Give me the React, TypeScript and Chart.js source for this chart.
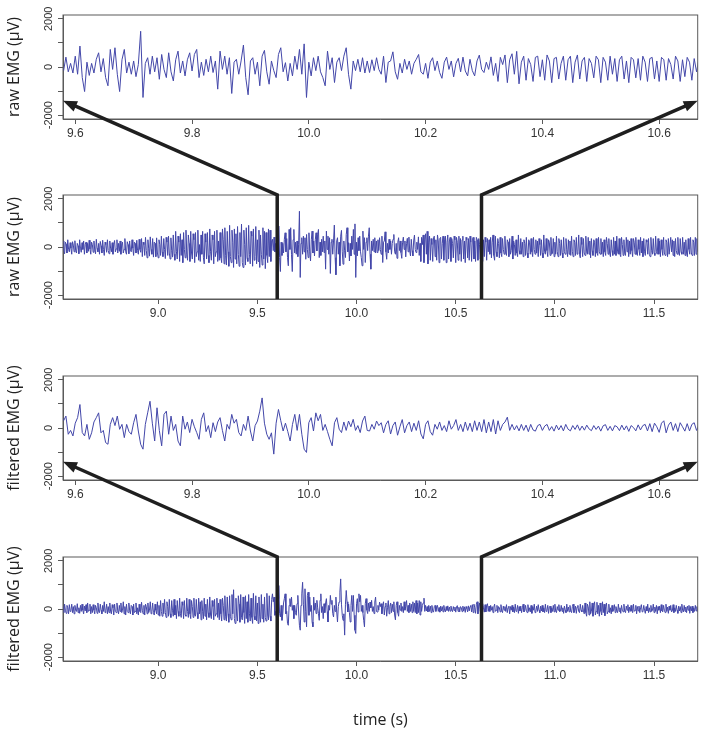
import { useEffect, useRef } from 'react';
import { Chart, registerables } from 'chart.js';

Chart.register(...registerables);

// ---------------- data ----------------
const DT = 0.004; // sample spacing (s)
const startA = 8.52;
const startB = 9.576;
const startC = 10.672;

// raw EMG (µV)
const rawA = [
  250,-150,-280,200,120,-250,300,-100,-200,180,
  -50,-300,220,80,-200,260,-150,-250,150,50,
  -280,300,-50,-220,180,-100,250,-300,100,200,
  -250,150,-180,280,-80,-300,200,100,-220,250,
  -120,-280,320,-50,-200,150,-300,230,50,-250,
  280,-100,-350,200,100,-220,300,-150,-280,250,
  -50,-200,180,-300,100,270,-200,-80,300,-250,
  150,-180,250,-300,80,200,-250,-100,350,-200,
  -300,220,100,-280,250,-120,-200,300,-50,-350,
  200,150,-250,280,-150,-300,320,-100,-220,350,
  -400,200,100,-350,400,-150,-450,300,-50,-380,
  420,-100,-300,350,-420,200,150,-400,380,-250,
  -450,300,100,-350,450,-200,-400,350,-100,-480,
  400,200,-350,450,-250,-500,380,-150,-420,500,
  -300,-550,650,-200,-500,450,200,-600,550,-350,
  300,-650,600,-100,-450,700,-300,-550,500,150,
  -600,650,-250,-500,550,300,-650,600,-400,-200,
  700,-550,100,-600,500,-300,650,-450,-700,550,
  200,-500,600,-350,-650,750,-200,-550,500,300,
  -700,650,-400,-200,700,-600,250,-550,600,-450,
  -650,750,300,-700,800,-350,-750,650,-200,-800,
  900,-400,-650,700,200,-850,750,-500,550,-700,
  850,-300,-800,600,-400,950,-650,-850,700,100,
  -750,800,-450,-600,900,-300,-700,650,450,-800,
  750,-550,-400,850,-700,300,-600,700,-850,500,
  -300,-750,800,-500,650,-900,600,-350,-650,750,
  -400,700,-600,250,
];
const rawB = [
  320,-150,410,-200,150,-250,450,-300,870,-440,
  -1020,200,-350,150,-250,320,590,-200,350,-440,
  -780,730,-100,800,-300,-1020,300,730,-250,200,
  -300,250,-400,100,1485,-1265,150,385,-300,450,
  -200,385,-510,520,-100,-440,590,-200,-580,300,
  660,-250,250,-370,300,590,-165,520,730,-440,
  200,-350,320,-200,450,-230,250,-920,660,-100,
  450,-300,385,-1100,200,320,-300,250,910,-440,
  -1155,250,385,-300,200,-780,450,690,-200,-715,
  250,-150,
  -440,520,800,-200,180,-580,150,-370,450,-100,
  730,-300,960,-1265,200,-370,385,-150,450,-200,
  -440,-780,660,-100,385,-645,200,385,-150,450,
  800,-300,-920,250,-150,320,-200,385,-250,250,
  -230,300,-150,385,-100,-300,450,-645,200,250,
  630,-200,-510,150,-250,320,-100,250,-300,150,
  320,520,-200,-300,150,-470,200,385,-150,250,
  -230,-470,200,410,-100,250,-410,150,360,-200,
  410,-165,-370,320,-150,-370,250,495,-100,-230,
  200,
  -100,420,-350,150,-600,400,100,500,-650,300,
  550,-300,650,-700,200,450,-550,350,100,-600,
  400,450,-400,300,-550,500,250,-650,350,400,
  -500,150,450,-550,300,450,-650,200,500,-500,
  250,400,-600,350,150,-450,450,300,-650,400,
  200,-550,450,-300,350,-600,300,450,-500,250,
  -650,400,300,-450,350,-550,450,200,-600,350,
  400,-500,250,-600,400,300,-550,350,100,-500,
  450,250,-600,300,-400,400,200,-550,350,-200,
  300,
];
const rawC = [
  -300,400,-450,200,500,-350,-550,450,-200,-400,
  350,150,-450,400,-250,-400,350,-100,-300,450,
  -250,-350,300,200,-400,350,-300,-150,450,-500,
  250,100,-350,300,-250,-400,500,-150,-300,350,
  -300,200,-400,300,150,-350,400,-250,-450,300,
  200,-300,350,-200,-400,400,-100,-300,300,-250,
  250,-400,350,100,-350,300,-250,-450,500,-200,
  -300,350,-150,-400,300,200,-350,400,-300,-250,
  350,-400,200,-300,450,-200,-400,350,150,-350,
  300,-250,-450,400,-200,-300,350,-100,-400,300,
  -300,250,-350,450,-200,-400,300,200,-350,400,
  -300,-200,500,-300,-450,400,100,-400,350,-250,
  -350,450,-200,-300,400,-300,250,-450,350,-150,
  -350,300,200,-400,350,-250,-350,400,-200,-300,
  350,-300,200,-400,300,-200,-350,400,150,-300,
  350,-250,-400,300,-150,-350,400,-300,250,-350,
  450,-200,-300,350,-300,-400,400,100,-350,300,
  -250,-350,400,-200,300,-400,250,-300,350,-150,
  -400,350,200,-300,400,-300,-350,300,-100,-350,
  400,-250,250,-400,350,-200,-350,300,200,-300,
  350,-300,-400,400,-150,-300,350,-250,-350,450,
  -200,-300,350,-300,250,-400,300,-100,-350,400,
  -250,-350,300,200,-400,350,-300,-300,400,-200,
  300,-350,250,-400,350,-150,-300,400,-250,-350,
  350,-200,-300,400,-300,200,-350,300,-250,-400,
  350,-100,-300,400,-250,-350,300,200,-350,400,
  -300,350,-200,
];

// filtered EMG (µV)
const filtA = [
  100,-150,200,-50,-180,150,50,-200,180,-100,
  -50,200,-150,100,-200,150,-50,-100,220,-150,
  50,-180,150,-100,200,-50,-200,120,-80,180,
  -150,250,-100,-50,200,-200,100,-150,180,-50,
  -200,150,50,-180,250,-100,-150,200,-50,-200,
  150,-100,300,-150,-50,200,-200,100,-150,250,
  -100,-200,180,50,-250,200,-100,-150,250,-50,
  -200,150,-100,250,-150,-50,300,-200,100,-250,
  200,-100,-150,250,-50,-200,150,100,-250,200,
  -150,-100,250,-200,50,-250,200,-100,-150,280,
  -50,-200,150,-250,200,100,-200,250,-150,-50,
  300,-200,-100,250,-150,-250,200,-50,-200,300,
  -250,150,-300,350,-100,-300,250,-200,400,-150,
  -350,300,100,-300,400,-200,-350,350,-50,-300,
  400,-250,150,-400,350,-100,-300,450,-200,-350,
  300,150,-400,350,-250,-300,450,-100,-350,400,
  -200,-400,350,100,-350,450,-250,-300,400,-150,
  -400,450,-200,300,-450,350,-100,-400,450,-300,
  200,-450,400,-150,-350,500,-250,-400,350,100,
  -450,400,-300,-200,450,-350,250,-450,400,-200,
  -500,450,150,-450,550,-300,-500,500,-200,-550,
  550,-300,-450,600,-200,800,-400,-600,450,-250,
  -500,550,200,-550,600,-350,-450,500,-150,-600,
  550,-400,300,-550,600,-200,-500,450,-350,-600,
  650,-300,-450,550,-500,250,-600,500,-300,-550,
  600,-400,200,-550,500,-350,-500,650,-250,-450,
  550,-300,-500,400,
];
const filtB = [
  630,300,495,-260,-100,-330,200,430,975,-190,
  -330,150,-470,-200,250,430,630,-200,-100,-605,
  -675,150,430,100,495,-55,150,-400,150,-150,
  -260,220,565,-125,-675,-880,150,630,1110,200,
  -540,840,-100,-740,565,700,-260,495,-100,150,
  -540,-740,495,-50,250,-190,360,50,-190,-470,
  360,630,-150,100,-400,220,-150,250,430,-100,
  -540,150,-50,565,200,360,-190,-330,150,-100,
  495,-125,-540,100,290,700,1250,200,-260,-470,
  -200,-1085,200,770,300,-125,200,-150,-540,150,
  565,-100,565,-260,-880,-1015,220,430,-125,630,
  300,565,-100,150,-150,-470,-740,220,430,-50,
  -190,250,-100,290,50,360,-100,100,-190,290,
  495,-100,-125,150,-50,290,100,220,
  -200,150,300,-250,100,250,-300,50,350,-200,
  100,250,-150,200,-100,300,-250,-450,150,300,
  -150,-300,150,-50,250,-100,100,-150,300,-50,
  100,350,-100,150,-150,250,-100,200,-150,300,
  -100,250,-150,350,-200,250,-150,350,-250,300,
  -100,150,250,450,-100,150,-80,100,-120,150,
  -100,120,-150,150,-80,-130,100,150,-100,80,
  150,-100,60,-130,120,-80,100,-120,150,-50,
  -120,100,-60,130,-100,80,-90,120,-40,-110,
  100,-60,80,-130,90,140,-100,70,-120,100,
  50,-110,120,-80,90,-140,100,20,-120,130,
  -80,100,150,-120,180,-150,200,50,-180,200,
  300,-200,120,250,-100,180,-150,220,50,-130,
  180,-120,150,220,-100,120,
];
const filtC = [
  -100,150,-50,100,-150,80,200,-100,-50,150,
  -150,100,50,-120,180,-80,-150,120,-50,100,
  -100,180,-150,50,120,-200,100,-50,150,-120,
  80,-150,200,-100,-50,150,-180,100,-80,120,
  -150,50,200,-120,-80,150,-50,-150,180,-100,
  50,-120,150,-180,100,-50,200,-150,-80,120,
  -100,180,-50,-150,120,-80,150,-120,50,-150,
  200,-100,-50,150,-180,80,120,-150,50,-100,
  150,-120,200,-80,-150,100,-50,180,-120,-80,
  150,-100,50,-180,120,-50,-150,200,-100,80,
  -120,150,-80,-150,100,200,-150,-50,120,-180,
  80,150,-100,-150,200,-50,-120,150,-80,-200,
  250,-150,-300,200,100,-250,300,-200,-100,250,
  -300,150,300,-250,-100,280,-200,150,-300,250,
  -100,-250,300,-150,200,-280,100,250,-200,-100,
  200,-150,50,-200,150,-100,-50,180,-150,100,
  -80,-150,200,-100,50,-180,150,-50,-120,200,
  -100,-150,120,-50,180,-150,80,-100,150,-80,
  -150,200,-100,-50,150,-200,100,-80,120,-150,
  50,180,-120,-100,150,-50,-180,100,-80,200,
  -150,50,-120,150,-100,-50,200,-150,80,-100,
  150,-200,100,-50,120,-150,180,-80,-120,150,
  -50,-150,200,-100,80,-180,120,-50,150,-120,
  -80,180,-150,50,-100,150,-50,-180,120,-80,
  100,-150,200,-50,-120,150,-100,80,-150,120,
  -50,150,-180,100,-80,120,-150,50,-100,150,
  -80,100,-120,
];

// axes
const zoomRange = [9.579, 10.666];
const wideRange = [8.52, 11.72];
const zoomTicks = [9.6, 9.8, 10.0, 10.2, 10.4, 10.6];
const wideTicks = [9.0, 9.5, 10.0, 10.5, 11.0, 11.5];
const yRange = [-2160, 2160];
const yTickValues = [-2000, -1000, 0, 1000, 2000];
const yLabelValues = [-2000, 0, 2000];
const zoomMarks = [9.6, 10.63];
const arrowLevel = -1400;
const yTitles = ['raw EMG (µV)', 'raw EMG (µV)', 'filtered EMG (µV)', 'filtered EMG (µV)'];
const xTitle = 'time (s)';

// ---------------- styles ----------------
const LINE = '#4347a9';
const AXIS = '#5a5a5a';
const TXT = '#333333';
const W = 709;
const BOX_TOP = 15;
const BOX_H = 104;
const BOX_LEFT = 63;
const PAD_RIGHT = 11.3;

const seg = (start: number, vals: number[]) => vals.map((v, i) => ({ x: start + i * DT, y: v }));
const rawPts = [...seg(startA, rawA), ...seg(startB, rawB), ...seg(startC, rawC)];
const filtPts = [...seg(startA, filtA), ...seg(startB, filtB), ...seg(startC, filtC)];

type Panel = { top: number; height: number; pts: { x: number; y: number }[]; range: number[]; ticks: number[]; title: string; xTitle?: string };
const PANELS: Panel[] = [
  { top: 0, height: 150, pts: rawPts, range: zoomRange, ticks: zoomTicks, title: yTitles[0] },
  { top: 180, height: 150, pts: rawPts, range: wideRange, ticks: wideTicks, title: yTitles[1] },
  { top: 361, height: 150, pts: filtPts, range: zoomRange, ticks: zoomTicks, title: yTitles[2] },
  { top: 542, height: 190, pts: filtPts, range: wideRange, ticks: wideTicks, title: yTitles[3], xTitle },
];

const decor = (label: string) => ({
  id: 'decor',
  afterDraw(chart: any) {
    const { ctx, chartArea: a, scales } = chart;
    ctx.save();
    ctx.strokeStyle = AXIS;
    ctx.lineWidth = 1;
    ctx.strokeRect(a.left, a.top, a.right - a.left, a.bottom - a.top);
    ctx.fillStyle = TXT;
    ctx.font = '11px "Liberation Sans", Arial, sans-serif';
    ctx.textAlign = 'center';
    ctx.textBaseline = 'middle';
    for (const v of yLabelValues) {
      const y = scales.y.getPixelForValue(v);
      ctx.save();
      ctx.translate(a.left - 14, y);
      ctx.rotate(-Math.PI / 2);
      ctx.fillText(String(v), 0, 0);
      ctx.restore();
    }
    ctx.fillStyle = '#222';
    ctx.font = '16px "Open Sans", sans-serif';
    ctx.save();
    ctx.translate(14, (a.top + a.bottom) / 2);
    ctx.rotate(-Math.PI / 2);
    ctx.fillText(label, 0, 0);
    ctx.restore();
    ctx.restore();
  },
});

function makeConfig(p: Panel): any {
  const xH = p.height - BOX_TOP - BOX_H;
  return {
    type: 'line',
    data: {
      datasets: [
        { data: p.pts, borderColor: LINE, borderWidth: 1, pointRadius: 0, tension: 0, fill: false },
      ],
    },
    options: {
      responsive: false,
      animation: false,
      parsing: false,
      normalized: true,
      events: [],
      layout: { autoPadding: false, padding: { top: BOX_TOP, right: PAD_RIGHT, bottom: 0, left: 0 } },
      plugins: { legend: { display: false }, tooltip: { enabled: false }, title: { display: false } },
      scales: {
        x: {
          type: 'linear',
          min: p.range[0],
          max: p.range[1],
          afterFit: (s: any) => { s.height = xH; },
          afterBuildTicks: (s: any) => { s.ticks = p.ticks.map((v) => ({ value: v })); },
          ticks: {
            autoSkip: false,
            maxRotation: 0,
            minRotation: 0,
            padding: 2,
            color: TXT,
            font: { family: '"Liberation Sans", Arial, sans-serif', size: 12 },
            callback: (v: any) => Number(v).toFixed(1),
          },
          grid: { drawOnChartArea: false, drawTicks: true, tickLength: 5, color: AXIS, lineWidth: 1 },
          border: { display: true, color: AXIS, width: 1 },
          title: p.xTitle
            ? { display: true, text: p.xTitle, color: '#222', font: { family: '"Open Sans", sans-serif', size: 16 }, padding: { top: 0, bottom: 2 } }
            : { display: false },
        },
        y: {
          type: 'linear',
          min: yRange[0],
          max: yRange[1],
          afterFit: (s: any) => { s.width = BOX_LEFT; },
          afterBuildTicks: (s: any) => { s.ticks = yTickValues.map((v) => ({ value: v })); },
          ticks: { display: false },
          grid: { drawOnChartArea: false, drawTicks: true, tickLength: 5, color: AXIS, lineWidth: 1 },
          border: { display: true, color: AXIS, width: 1 },
        },
      },
    },
    plugins: [decor(p.title)],
  };
}

function drawArrow(ctx: CanvasRenderingContext2D, x0: number, yBottom: number, yTop: number, tx: number, ty: number) {
  const ang = Math.atan2(ty - yTop, tx - x0);
  const head = 14;
  const hw = 5.5;
  const c = Math.cos(ang);
  const s = Math.sin(ang);
  ctx.strokeStyle = '#1f1f1f';
  ctx.fillStyle = '#1f1f1f';
  ctx.lineWidth = 3.5;
  ctx.lineJoin = 'miter';
  ctx.lineCap = 'butt';
  ctx.beginPath();
  ctx.moveTo(x0, yBottom);
  ctx.lineTo(x0, yTop);
  ctx.lineTo(tx - head * 0.8 * c, ty - head * 0.8 * s);
  ctx.stroke();
  ctx.beginPath();
  ctx.moveTo(tx, ty);
  ctx.lineTo(tx - head * c + hw * s, ty - head * s - hw * c);
  ctx.lineTo(tx - head * c - hw * s, ty - head * s + hw * c);
  ctx.closePath();
  ctx.fill();
}

export default function App() {
  const refs = useRef<(HTMLCanvasElement | null)[]>([]);
  const overlay = useRef<HTMLCanvasElement | null>(null);

  useEffect(() => {
    const charts = PANELS.map((p, i) => new Chart(refs.current[i] as HTMLCanvasElement, makeConfig(p)));
    const ov = overlay.current as HTMLCanvasElement;
    const dpr = window.devicePixelRatio || 1;
    ov.width = W * dpr;
    ov.height = 731 * dpr;
    const ctx = ov.getContext('2d') as CanvasRenderingContext2D;
    ctx.setTransform(dpr, 0, 0, dpr, 0, 0);
    ctx.clearRect(0, 0, W, 731);
    for (const [zi, wi] of [[0, 1], [2, 3]]) {
      const zc = charts[zi];
      const wc = charts[wi];
      const zTop = PANELS[zi].top;
      const wTop = PANELS[wi].top;
      const ty = zTop + zc.scales.y.getPixelForValue(arrowLevel);
      const targets = [zc.chartArea.left, zc.chartArea.right];
      zoomMarks.forEach((m, k) => {
        const x0 = wc.scales.x.getPixelForValue(m);
        drawArrow(ctx, x0, wTop + wc.chartArea.bottom, wTop + wc.chartArea.top, targets[k], ty);
      });
    }
    return () => charts.forEach((c) => c.destroy());
  }, []);

  return (
    <div style={{ position: 'absolute', left: 0, top: 0, width: W, height: 731, background: '#fff', overflow: 'hidden' }}>
      {PANELS.map((p, i) => (
        <canvas
          key={i}
          ref={(el) => { refs.current[i] = el; }}
          width={W}
          height={p.height}
          style={{ position: 'absolute', left: 0, top: p.top, width: W, height: p.height }}
        />
      ))}
      <canvas
        ref={overlay}
        style={{ position: 'absolute', left: 0, top: 0, width: W, height: 731, pointerEvents: 'none' }}
      />
    </div>
  );
}
